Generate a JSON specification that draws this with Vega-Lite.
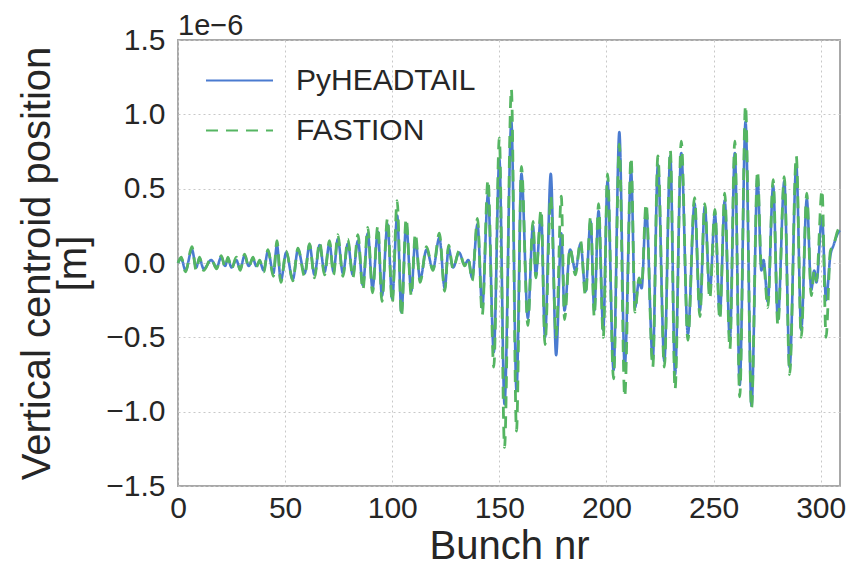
{
  "$schema": "https://vega.github.io/schema/vega-lite/v6.json",
  "autosize": "none",
  "width": 662,
  "height": 446,
  "padding": {"left": 178, "top": 40, "right": 14, "bottom": 81},
  "background": "white",
  "title": {"text": "1e−6", "anchor": "start", "frame": "group", "offset": 6, "dy": 22, "fontSize": 29, "fontWeight": "normal", "font": "Liberation Sans", "color": "#262626"},
  "config": {
    "view": {"stroke": "#a8a8a8", "strokeWidth": 2},
    "font": "Liberation Sans",
    "axis": {"domain": false, "ticks": false, "grid": true, "labelFlush": false, "gridColor": "#c8c8c8", "gridDash": [2, 3], "gridWidth": 1, "labelFont": "Liberation Sans", "labelFontSize": 30, "labelColor": "#262626", "titleFont": "Liberation Sans", "titleFontSize": 40, "titleFontWeight": "normal", "titleColor": "#262626"},
    "legend": {"labelFont": "Liberation Sans", "labelFontSize": 30, "labelColor": "#262626"}
  },
  "data": {"values": [
    {"bunch": 0, "PyHEADTAIL": 0.0, "FASTION": 0.0},
    {"bunch": 1.5, "PyHEADTAIL": 0.03, "FASTION": 0.04},
    {"bunch": 3.5, "PyHEADTAIL": -0.05, "FASTION": -0.06},
    {"bunch": 6.5, "PyHEADTAIL": 0.09, "FASTION": 0.11},
    {"bunch": 8.5, "PyHEADTAIL": -0.03, "FASTION": -0.05},
    {"bunch": 10, "PyHEADTAIL": 0.03, "FASTION": 0.04},
    {"bunch": 12, "PyHEADTAIL": -0.04, "FASTION": -0.05},
    {"bunch": 15.5, "PyHEADTAIL": 0.02, "FASTION": 0.03},
    {"bunch": 18, "PyHEADTAIL": -0.03, "FASTION": -0.04},
    {"bunch": 20.2, "PyHEADTAIL": 0.04, "FASTION": 0.05},
    {"bunch": 22, "PyHEADTAIL": -0.02, "FASTION": -0.03},
    {"bunch": 23.3, "PyHEADTAIL": 0.03, "FASTION": 0.04},
    {"bunch": 25, "PyHEADTAIL": -0.03, "FASTION": -0.04},
    {"bunch": 27.2, "PyHEADTAIL": 0.02, "FASTION": 0.04},
    {"bunch": 29, "PyHEADTAIL": -0.04, "FASTION": -0.05},
    {"bunch": 31.1, "PyHEADTAIL": 0.05, "FASTION": 0.06},
    {"bunch": 33, "PyHEADTAIL": -0.02, "FASTION": -0.03},
    {"bunch": 35, "PyHEADTAIL": 0.03, "FASTION": 0.04},
    {"bunch": 36.5, "PyHEADTAIL": -0.02, "FASTION": -0.03},
    {"bunch": 38.1, "PyHEADTAIL": 0.01, "FASTION": 0.02},
    {"bunch": 40, "PyHEADTAIL": -0.05, "FASTION": -0.06},
    {"bunch": 42, "PyHEADTAIL": 0.08, "FASTION": 0.09},
    {"bunch": 44.5, "PyHEADTAIL": -0.07, "FASTION": -0.09},
    {"bunch": 46.2, "PyHEADTAIL": 0.12, "FASTION": 0.15},
    {"bunch": 48, "PyHEADTAIL": -0.12, "FASTION": -0.13},
    {"bunch": 50.5, "PyHEADTAIL": 0.07, "FASTION": 0.08},
    {"bunch": 53.6, "PyHEADTAIL": -0.11, "FASTION": -0.12},
    {"bunch": 56, "PyHEADTAIL": 0.09, "FASTION": 0.1},
    {"bunch": 59.1, "PyHEADTAIL": -0.07, "FASTION": -0.09},
    {"bunch": 61.4, "PyHEADTAIL": 0.12, "FASTION": 0.13},
    {"bunch": 63.7, "PyHEADTAIL": -0.08, "FASTION": -0.1},
    {"bunch": 66.1, "PyHEADTAIL": 0.12, "FASTION": 0.14},
    {"bunch": 68.4, "PyHEADTAIL": -0.06, "FASTION": -0.08},
    {"bunch": 70.7, "PyHEADTAIL": 0.13, "FASTION": 0.15},
    {"bunch": 72.6, "PyHEADTAIL": -0.06, "FASTION": -0.08},
    {"bunch": 74.6, "PyHEADTAIL": 0.16, "FASTION": 0.19},
    {"bunch": 77, "PyHEADTAIL": -0.07, "FASTION": -0.09},
    {"bunch": 79.3, "PyHEADTAIL": 0.13, "FASTION": 0.16},
    {"bunch": 81.6, "PyHEADTAIL": -0.08, "FASTION": -0.1},
    {"bunch": 84, "PyHEADTAIL": 0.15, "FASTION": 0.19},
    {"bunch": 86.3, "PyHEADTAIL": -0.15, "FASTION": -0.18},
    {"bunch": 88.6, "PyHEADTAIL": 0.2, "FASTION": 0.24},
    {"bunch": 90.8, "PyHEADTAIL": -0.17, "FASTION": -0.2},
    {"bunch": 93.3, "PyHEADTAIL": 0.21, "FASTION": 0.25},
    {"bunch": 95.2, "PyHEADTAIL": -0.22, "FASTION": -0.26},
    {"bunch": 97.8, "PyHEADTAIL": 0.26, "FASTION": 0.3},
    {"bunch": 100, "PyHEADTAIL": -0.24, "FASTION": -0.27},
    {"bunch": 102.3, "PyHEADTAIL": 0.32, "FASTION": 0.42},
    {"bunch": 104.3, "PyHEADTAIL": -0.33, "FASTION": -0.36},
    {"bunch": 106.5, "PyHEADTAIL": 0.26, "FASTION": 0.3},
    {"bunch": 108.9, "PyHEADTAIL": -0.19, "FASTION": -0.22},
    {"bunch": 110.8, "PyHEADTAIL": 0.16, "FASTION": 0.2},
    {"bunch": 113, "PyHEADTAIL": -0.11, "FASTION": -0.13},
    {"bunch": 116, "PyHEADTAIL": 0.09, "FASTION": 0.11},
    {"bunch": 119, "PyHEADTAIL": -0.04, "FASTION": -0.05},
    {"bunch": 122, "PyHEADTAIL": 0.17, "FASTION": 0.2},
    {"bunch": 124.5, "PyHEADTAIL": -0.17, "FASTION": -0.19},
    {"bunch": 126.3, "PyHEADTAIL": 0.1, "FASTION": 0.12},
    {"bunch": 128.4, "PyHEADTAIL": -0.03, "FASTION": -0.04},
    {"bunch": 131.2, "PyHEADTAIL": 0.07, "FASTION": 0.08},
    {"bunch": 133.8, "PyHEADTAIL": -0.01, "FASTION": -0.02},
    {"bunch": 135.5, "PyHEADTAIL": 0.02, "FASTION": 0.03},
    {"bunch": 137.3, "PyHEADTAIL": -0.1, "FASTION": -0.12},
    {"bunch": 139.8, "PyHEADTAIL": 0.26, "FASTION": 0.3},
    {"bunch": 142, "PyHEADTAIL": -0.3, "FASTION": -0.35},
    {"bunch": 144.7, "PyHEADTAIL": 0.46, "FASTION": 0.56},
    {"bunch": 147.4, "PyHEADTAIL": -0.6, "FASTION": -0.7},
    {"bunch": 150, "PyHEADTAIL": 0.7, "FASTION": 0.84},
    {"bunch": 152.4, "PyHEADTAIL": -0.95, "FASTION": -1.24},
    {"bunch": 155.6, "PyHEADTAIL": 0.95, "FASTION": 1.17},
    {"bunch": 158, "PyHEADTAIL": -0.86, "FASTION": -1.13},
    {"bunch": 160.3, "PyHEADTAIL": 0.6, "FASTION": 0.65},
    {"bunch": 163.3, "PyHEADTAIL": -0.37, "FASTION": -0.42},
    {"bunch": 165.7, "PyHEADTAIL": 0.25, "FASTION": 0.28},
    {"bunch": 167, "PyHEADTAIL": -0.08, "FASTION": -0.1},
    {"bunch": 169.5, "PyHEADTAIL": 0.32, "FASTION": 0.36},
    {"bunch": 171.3, "PyHEADTAIL": -0.5, "FASTION": -0.55},
    {"bunch": 174, "PyHEADTAIL": 0.6, "FASTION": 0.45},
    {"bunch": 176.5, "PyHEADTAIL": -0.62, "FASTION": -0.5},
    {"bunch": 178.9, "PyHEADTAIL": 0.2, "FASTION": 0.45},
    {"bunch": 180.4, "PyHEADTAIL": -0.32, "FASTION": -0.38},
    {"bunch": 183, "PyHEADTAIL": 0.09, "FASTION": 0.1},
    {"bunch": 185.5, "PyHEADTAIL": -0.05, "FASTION": -0.08},
    {"bunch": 187.9, "PyHEADTAIL": 0.13, "FASTION": 0.15},
    {"bunch": 190.2, "PyHEADTAIL": -0.19, "FASTION": -0.22},
    {"bunch": 192.6, "PyHEADTAIL": 0.28, "FASTION": 0.31},
    {"bunch": 194.3, "PyHEADTAIL": -0.32, "FASTION": -0.36},
    {"bunch": 196.3, "PyHEADTAIL": 0.35, "FASTION": 0.4},
    {"bunch": 198.5, "PyHEADTAIL": -0.45, "FASTION": -0.5},
    {"bunch": 200.5, "PyHEADTAIL": 0.55, "FASTION": 0.6},
    {"bunch": 203.3, "PyHEADTAIL": -0.72, "FASTION": -0.78},
    {"bunch": 206, "PyHEADTAIL": 0.88, "FASTION": 0.8},
    {"bunch": 208.5, "PyHEADTAIL": -0.7, "FASTION": -0.9},
    {"bunch": 211.5, "PyHEADTAIL": 0.62, "FASTION": 0.71},
    {"bunch": 213.3, "PyHEADTAIL": -0.3, "FASTION": -0.33},
    {"bunch": 215.2, "PyHEADTAIL": -0.12, "FASTION": -0.1},
    {"bunch": 216.4, "PyHEADTAIL": -0.17, "FASTION": -0.15},
    {"bunch": 218.5, "PyHEADTAIL": 0.36, "FASTION": 0.4},
    {"bunch": 221.6, "PyHEADTAIL": -0.65, "FASTION": -0.7},
    {"bunch": 224, "PyHEADTAIL": 0.66, "FASTION": 0.72},
    {"bunch": 227, "PyHEADTAIL": -0.66, "FASTION": -0.7},
    {"bunch": 229.8, "PyHEADTAIL": 0.72, "FASTION": 0.76},
    {"bunch": 232, "PyHEADTAIL": -0.75, "FASTION": -0.85},
    {"bunch": 234.9, "PyHEADTAIL": 0.74, "FASTION": 0.82},
    {"bunch": 238, "PyHEADTAIL": -0.48, "FASTION": -0.52},
    {"bunch": 241.1, "PyHEADTAIL": 0.4, "FASTION": 0.44},
    {"bunch": 243.6, "PyHEADTAIL": -0.32, "FASTION": -0.36},
    {"bunch": 245.9, "PyHEADTAIL": 0.38, "FASTION": 0.4},
    {"bunch": 248.2, "PyHEADTAIL": -0.2, "FASTION": -0.24},
    {"bunch": 250.6, "PyHEADTAIL": 0.33, "FASTION": 0.36},
    {"bunch": 252.9, "PyHEADTAIL": -0.35, "FASTION": -0.38},
    {"bunch": 255.2, "PyHEADTAIL": 0.42, "FASTION": 0.47},
    {"bunch": 257.6, "PyHEADTAIL": -0.52, "FASTION": -0.58},
    {"bunch": 259.9, "PyHEADTAIL": 0.74, "FASTION": 0.82},
    {"bunch": 262.2, "PyHEADTAIL": -0.82, "FASTION": -0.9},
    {"bunch": 264.9, "PyHEADTAIL": 0.95, "FASTION": 1.06},
    {"bunch": 267.7, "PyHEADTAIL": -0.96, "FASTION": -0.98},
    {"bunch": 270.5, "PyHEADTAIL": 0.58, "FASTION": 0.62},
    {"bunch": 272.3, "PyHEADTAIL": -0.05, "FASTION": -0.02},
    {"bunch": 273.3, "PyHEADTAIL": 0.02, "FASTION": 0.0},
    {"bunch": 275.3, "PyHEADTAIL": -0.26, "FASTION": -0.3},
    {"bunch": 277.8, "PyHEADTAIL": 0.52, "FASTION": 0.56},
    {"bunch": 280, "PyHEADTAIL": -0.38, "FASTION": -0.42},
    {"bunch": 283, "PyHEADTAIL": 0.55, "FASTION": 0.58},
    {"bunch": 285.5, "PyHEADTAIL": -0.7, "FASTION": -0.75},
    {"bunch": 288.6, "PyHEADTAIL": 0.66, "FASTION": 0.72},
    {"bunch": 290.9, "PyHEADTAIL": -0.45, "FASTION": -0.5},
    {"bunch": 293.5, "PyHEADTAIL": 0.43, "FASTION": 0.47},
    {"bunch": 295.6, "PyHEADTAIL": -0.18, "FASTION": -0.22},
    {"bunch": 297, "PyHEADTAIL": -0.05, "FASTION": -0.05},
    {"bunch": 298, "PyHEADTAIL": -0.13, "FASTION": -0.12},
    {"bunch": 300.6, "PyHEADTAIL": 0.31, "FASTION": 0.49},
    {"bunch": 302.5, "PyHEADTAIL": -0.25, "FASTION": -0.5},
    {"bunch": 304.5, "PyHEADTAIL": 0.05, "FASTION": 0.08},
    {"bunch": 306, "PyHEADTAIL": 0.12, "FASTION": 0.12},
    {"bunch": 308, "PyHEADTAIL": 0.2, "FASTION": 0.22},
    {"bunch": 309, "PyHEADTAIL": 0.22, "FASTION": 0.24}
  ]},
  "transform": [{"fold": ["PyHEADTAIL", "FASTION"], "as": ["series", "pos"]}],
  "encoding": {
    "x": {"field": "bunch", "type": "quantitative", "scale": {"domain": [0, 309], "nice": false}, "axis": {"title": "Bunch nr", "values": [0, 50, 100, 150, 200, 250, 300], "labelPadding": 7, "titlePadding": 3}},
    "y": {"field": "pos", "type": "quantitative", "scale": {"domain": [-1.5, 1.5], "nice": false}, "axis": {"title": ["Vertical centroid position", "[m]"], "values": [-1.5, -1, -0.5, 0, 0.5, 1, 1.5], "format": ".1f", "labelPadding": 13, "titlePadding": 12, "titleLineHeight": 36}},
    "color": {"field": "series", "type": "nominal", "scale": {"domain": ["PyHEADTAIL", "FASTION"], "range": ["#4a7bd0", "#55b562"]}, "legend": {"title": null, "orient": "none", "legendX": 27, "legendY": 6, "padding": 0, "symbolType": "stroke", "symbolSize": 4489, "symbolStrokeWidth": 2, "labelOffset": 22, "labelLimit": 400, "rowPadding": -21}},
    "strokeDash": {"field": "series", "type": "nominal", "scale": {"domain": ["PyHEADTAIL", "FASTION"], "range": [[1, 0], [12, 8]]}, "legend": {"title": null, "orient": "none", "legendX": 27, "legendY": 6, "padding": 0, "symbolType": "stroke", "symbolSize": 4489, "symbolStrokeWidth": 2, "labelOffset": 22, "labelLimit": 400, "rowPadding": -21}}
  },
  "layer": [
    {"transform": [{"filter": "datum.series === 'PyHEADTAIL'"}], "mark": {"type": "line", "strokeWidth": 2.6, "interpolate": "monotone"}},
    {"transform": [{"filter": "datum.series === 'FASTION'"}], "mark": {"type": "line", "strokeWidth": 2.8, "interpolate": "monotone"}}
  ]
}
